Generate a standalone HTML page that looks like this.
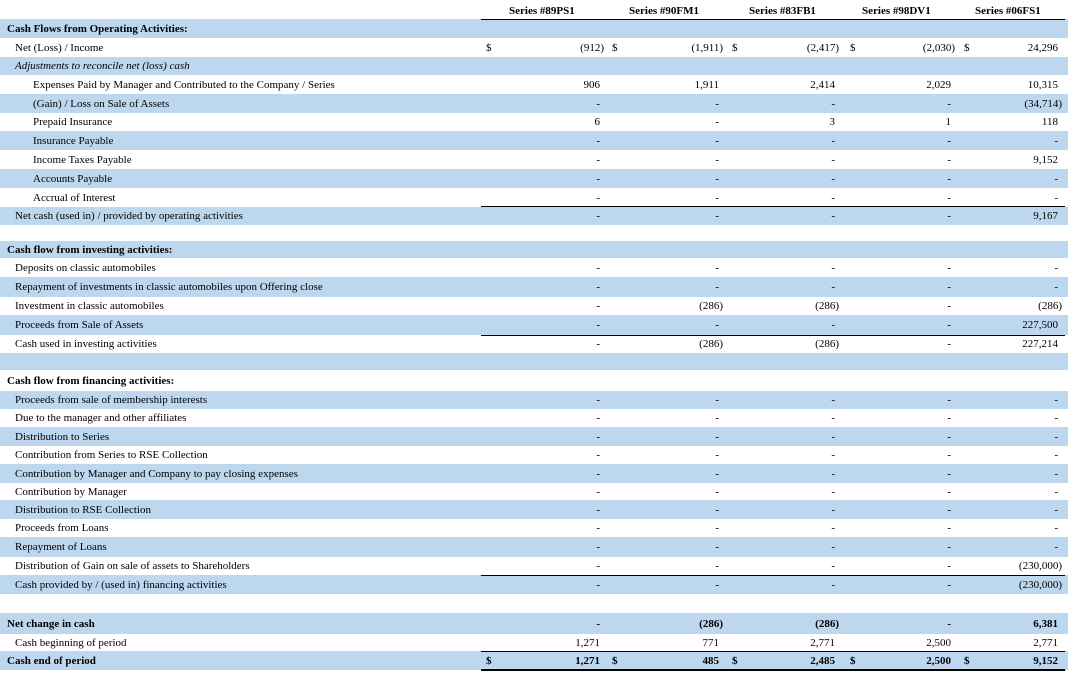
<!DOCTYPE html>
<html><head><meta charset="utf-8"><style>
body{margin:0;width:1068px;height:689px;background:#fff;position:relative;overflow:hidden;font-family:"Liberation Serif",serif;font-size:11px;color:#000}
.r{position:absolute;left:0;width:1068px}
.b{background:#bdd7ee}
.r span{position:absolute;top:50%;transform:translateY(-50%);white-space:nowrap}
.l0{left:7px}.l1{left:15px}.l2{left:33px}
.c1{right:464px}.c2{right:345px}.c3{right:229px}.c4{right:113px}.c5{right:6px}
.n{padding-right:4px}
.d1{left:486px}.d2{left:612px}.d3{left:732px}.d4{left:850px}.d5{left:964px}
.bo{font-weight:bold}
.it{font-style:italic}
.ln{position:absolute;left:481px;width:584px;height:1px;background:#000}
.h{position:absolute;top:5px;font-weight:bold}
</style></head><body>
<div class="h" style="left:509px">Series #89PS1</div>
<div class="h" style="left:629px">Series #90FM1</div>
<div class="h" style="left:749px">Series #83FB1</div>
<div class="h" style="left:862px">Series #98DV1</div>
<div class="h" style="left:975px">Series #06FS1</div>

<div class="r b" style="top:19px;height:19px"><span class="l0 bo">Cash Flows from Operating Activities:</span></div>
<div class="r" style="top:38px;height:19px"><span class="l1">Net (Loss) / Income</span><span class="d1">$</span><span class="c1">(912)</span><span class="d2">$</span><span class="c2">(1,911)</span><span class="d3">$</span><span class="c3">(2,417)</span><span class="d4">$</span><span class="c4">(2,030)</span><span class="d5">$</span><span class="c5 n">24,296</span></div>
<div class="r b" style="top:57px;height:18px"><span class="l1 it">Adjustments to reconcile net (loss) cash</span></div>
<div class="r" style="top:75px;height:19px"><span class="l2">Expenses Paid by Manager and Contributed to the Company / Series</span><span class="c1 n">906</span><span class="c2 n">1,911</span><span class="c3 n">2,414</span><span class="c4 n">2,029</span><span class="c5 n">10,315</span></div>
<div class="r b" style="top:94px;height:19px"><span class="l2">(Gain) / Loss on Sale of Assets</span><span class="c1 n">-</span><span class="c2 n">-</span><span class="c3 n">-</span><span class="c4 n">-</span><span class="c5">(34,714)</span></div>
<div class="r" style="top:113px;height:18px"><span class="l2">Prepaid Insurance</span><span class="c1 n">6</span><span class="c2 n">-</span><span class="c3 n">3</span><span class="c4 n">1</span><span class="c5 n">118</span></div>
<div class="r b" style="top:131px;height:19px"><span class="l2">Insurance Payable</span><span class="c1 n">-</span><span class="c2 n">-</span><span class="c3 n">-</span><span class="c4 n">-</span><span class="c5 n">-</span></div>
<div class="r" style="top:150px;height:19px"><span class="l2">Income Taxes Payable</span><span class="c1 n">-</span><span class="c2 n">-</span><span class="c3 n">-</span><span class="c4 n">-</span><span class="c5 n">9,152</span></div>
<div class="r b" style="top:169px;height:19px"><span class="l2">Accounts Payable</span><span class="c1 n">-</span><span class="c2 n">-</span><span class="c3 n">-</span><span class="c4 n">-</span><span class="c5 n">-</span></div>
<div class="r" style="top:188px;height:19px"><span class="l2">Accrual of Interest</span><span class="c1 n">-</span><span class="c2 n">-</span><span class="c3 n">-</span><span class="c4 n">-</span><span class="c5 n">-</span></div>
<div class="r b" style="top:207px;height:18px"><span class="l1">Net cash (used in) / provided by operating activities</span><span class="c1 n">-</span><span class="c2 n">-</span><span class="c3 n">-</span><span class="c4 n">-</span><span class="c5 n">9,167</span></div>

<div class="r b" style="top:241px;height:17px"><span class="l0 bo">Cash flow from investing activities:</span></div>
<div class="r" style="top:258px;height:19px"><span class="l1">Deposits on classic automobiles</span><span class="c1 n">-</span><span class="c2 n">-</span><span class="c3 n">-</span><span class="c4 n">-</span><span class="c5 n">-</span></div>
<div class="r b" style="top:277px;height:20px"><span class="l1">Repayment of investments in classic automobiles upon Offering close</span><span class="c1 n">-</span><span class="c2 n">-</span><span class="c3 n">-</span><span class="c4 n">-</span><span class="c5 n">-</span></div>
<div class="r" style="top:297px;height:18px"><span class="l1">Investment in classic automobiles</span><span class="c1 n">-</span><span class="c2">(286)</span><span class="c3">(286)</span><span class="c4 n">-</span><span class="c5">(286)</span></div>
<div class="r b" style="top:315px;height:20px"><span class="l1">Proceeds from Sale of Assets</span><span class="c1 n">-</span><span class="c2 n">-</span><span class="c3 n">-</span><span class="c4 n">-</span><span class="c5 n">227,500</span></div>
<div class="r" style="top:335px;height:18px"><span class="l1">Cash used in investing activities</span><span class="c1 n">-</span><span class="c2">(286)</span><span class="c3">(286)</span><span class="c4 n">-</span><span class="c5 n">227,214</span></div>
<div class="r b" style="top:353px;height:17px"></div>
<div class="r" style="top:370px;height:21px"><span class="l0 bo">Cash flow from financing activities:</span></div>
<div class="r b" style="top:391px;height:18px"><span class="l1">Proceeds from sale of membership interests</span><span class="c1 n">-</span><span class="c2 n">-</span><span class="c3 n">-</span><span class="c4 n">-</span><span class="c5 n">-</span></div>
<div class="r" style="top:409px;height:18px"><span class="l1">Due to the manager and other affiliates</span><span class="c1 n">-</span><span class="c2 n">-</span><span class="c3 n">-</span><span class="c4 n">-</span><span class="c5 n">-</span></div>
<div class="r b" style="top:427px;height:19px"><span class="l1">Distribution to Series</span><span class="c1 n">-</span><span class="c2 n">-</span><span class="c3 n">-</span><span class="c4 n">-</span><span class="c5 n">-</span></div>
<div class="r" style="top:446px;height:18px"><span class="l1">Contribution from Series to RSE Collection</span><span class="c1 n">-</span><span class="c2 n">-</span><span class="c3 n">-</span><span class="c4 n">-</span><span class="c5 n">-</span></div>
<div class="r b" style="top:464px;height:19px"><span class="l1">Contribution by Manager and Company to pay closing expenses</span><span class="c1 n">-</span><span class="c2 n">-</span><span class="c3 n">-</span><span class="c4 n">-</span><span class="c5 n">-</span></div>
<div class="r" style="top:483px;height:17px"><span class="l1">Contribution by Manager</span><span class="c1 n">-</span><span class="c2 n">-</span><span class="c3 n">-</span><span class="c4 n">-</span><span class="c5 n">-</span></div>
<div class="r b" style="top:500px;height:19px"><span class="l1">Distribution to RSE Collection</span><span class="c1 n">-</span><span class="c2 n">-</span><span class="c3 n">-</span><span class="c4 n">-</span><span class="c5 n">-</span></div>
<div class="r" style="top:519px;height:18px"><span class="l1">Proceeds from Loans</span><span class="c1 n">-</span><span class="c2 n">-</span><span class="c3 n">-</span><span class="c4 n">-</span><span class="c5 n">-</span></div>
<div class="r b" style="top:537px;height:20px"><span class="l1">Repayment of Loans</span><span class="c1 n">-</span><span class="c2 n">-</span><span class="c3 n">-</span><span class="c4 n">-</span><span class="c5 n">-</span></div>
<div class="r" style="top:557px;height:18px"><span class="l1">Distribution of Gain on sale of assets to Shareholders</span><span class="c1 n">-</span><span class="c2 n">-</span><span class="c3 n">-</span><span class="c4 n">-</span><span class="c5">(230,000)</span></div>
<div class="r b" style="top:575px;height:19px"><span class="l1">Cash provided by / (used in) financing activities</span><span class="c1 n">-</span><span class="c2 n">-</span><span class="c3 n">-</span><span class="c4 n">-</span><span class="c5">(230,000)</span></div>

<div class="r b bo" style="top:613px;height:21px"><span class="l0">Net change in cash</span><span class="c1 n">-</span><span class="c2">(286)</span><span class="c3">(286)</span><span class="c4 n">-</span><span class="c5 n">6,381</span></div>
<div class="r" style="top:634px;height:17px"><span class="l1">Cash beginning of period</span><span class="c1 n">1,271</span><span class="c2 n">771</span><span class="c3 n">2,771</span><span class="c4 n">2,500</span><span class="c5 n">2,771</span></div>
<div class="r b bo" style="top:651px;height:19px"><span class="l0">Cash end of period</span><span class="d1">$</span><span class="c1 n">1,271</span><span class="d2">$</span><span class="c2 n">485</span><span class="d3">$</span><span class="c3 n">2,485</span><span class="d4">$</span><span class="c4 n">2,500</span><span class="d5">$</span><span class="c5 n">9,152</span></div>

<div class="ln" style="top:19px"></div>
<div class="ln" style="top:206px"></div>
<div class="ln" style="top:335px"></div>
<div class="ln" style="top:575px"></div>
<div class="ln" style="top:651px"></div>
<div class="ln" style="top:669px;height:2px"></div>
</body></html>
